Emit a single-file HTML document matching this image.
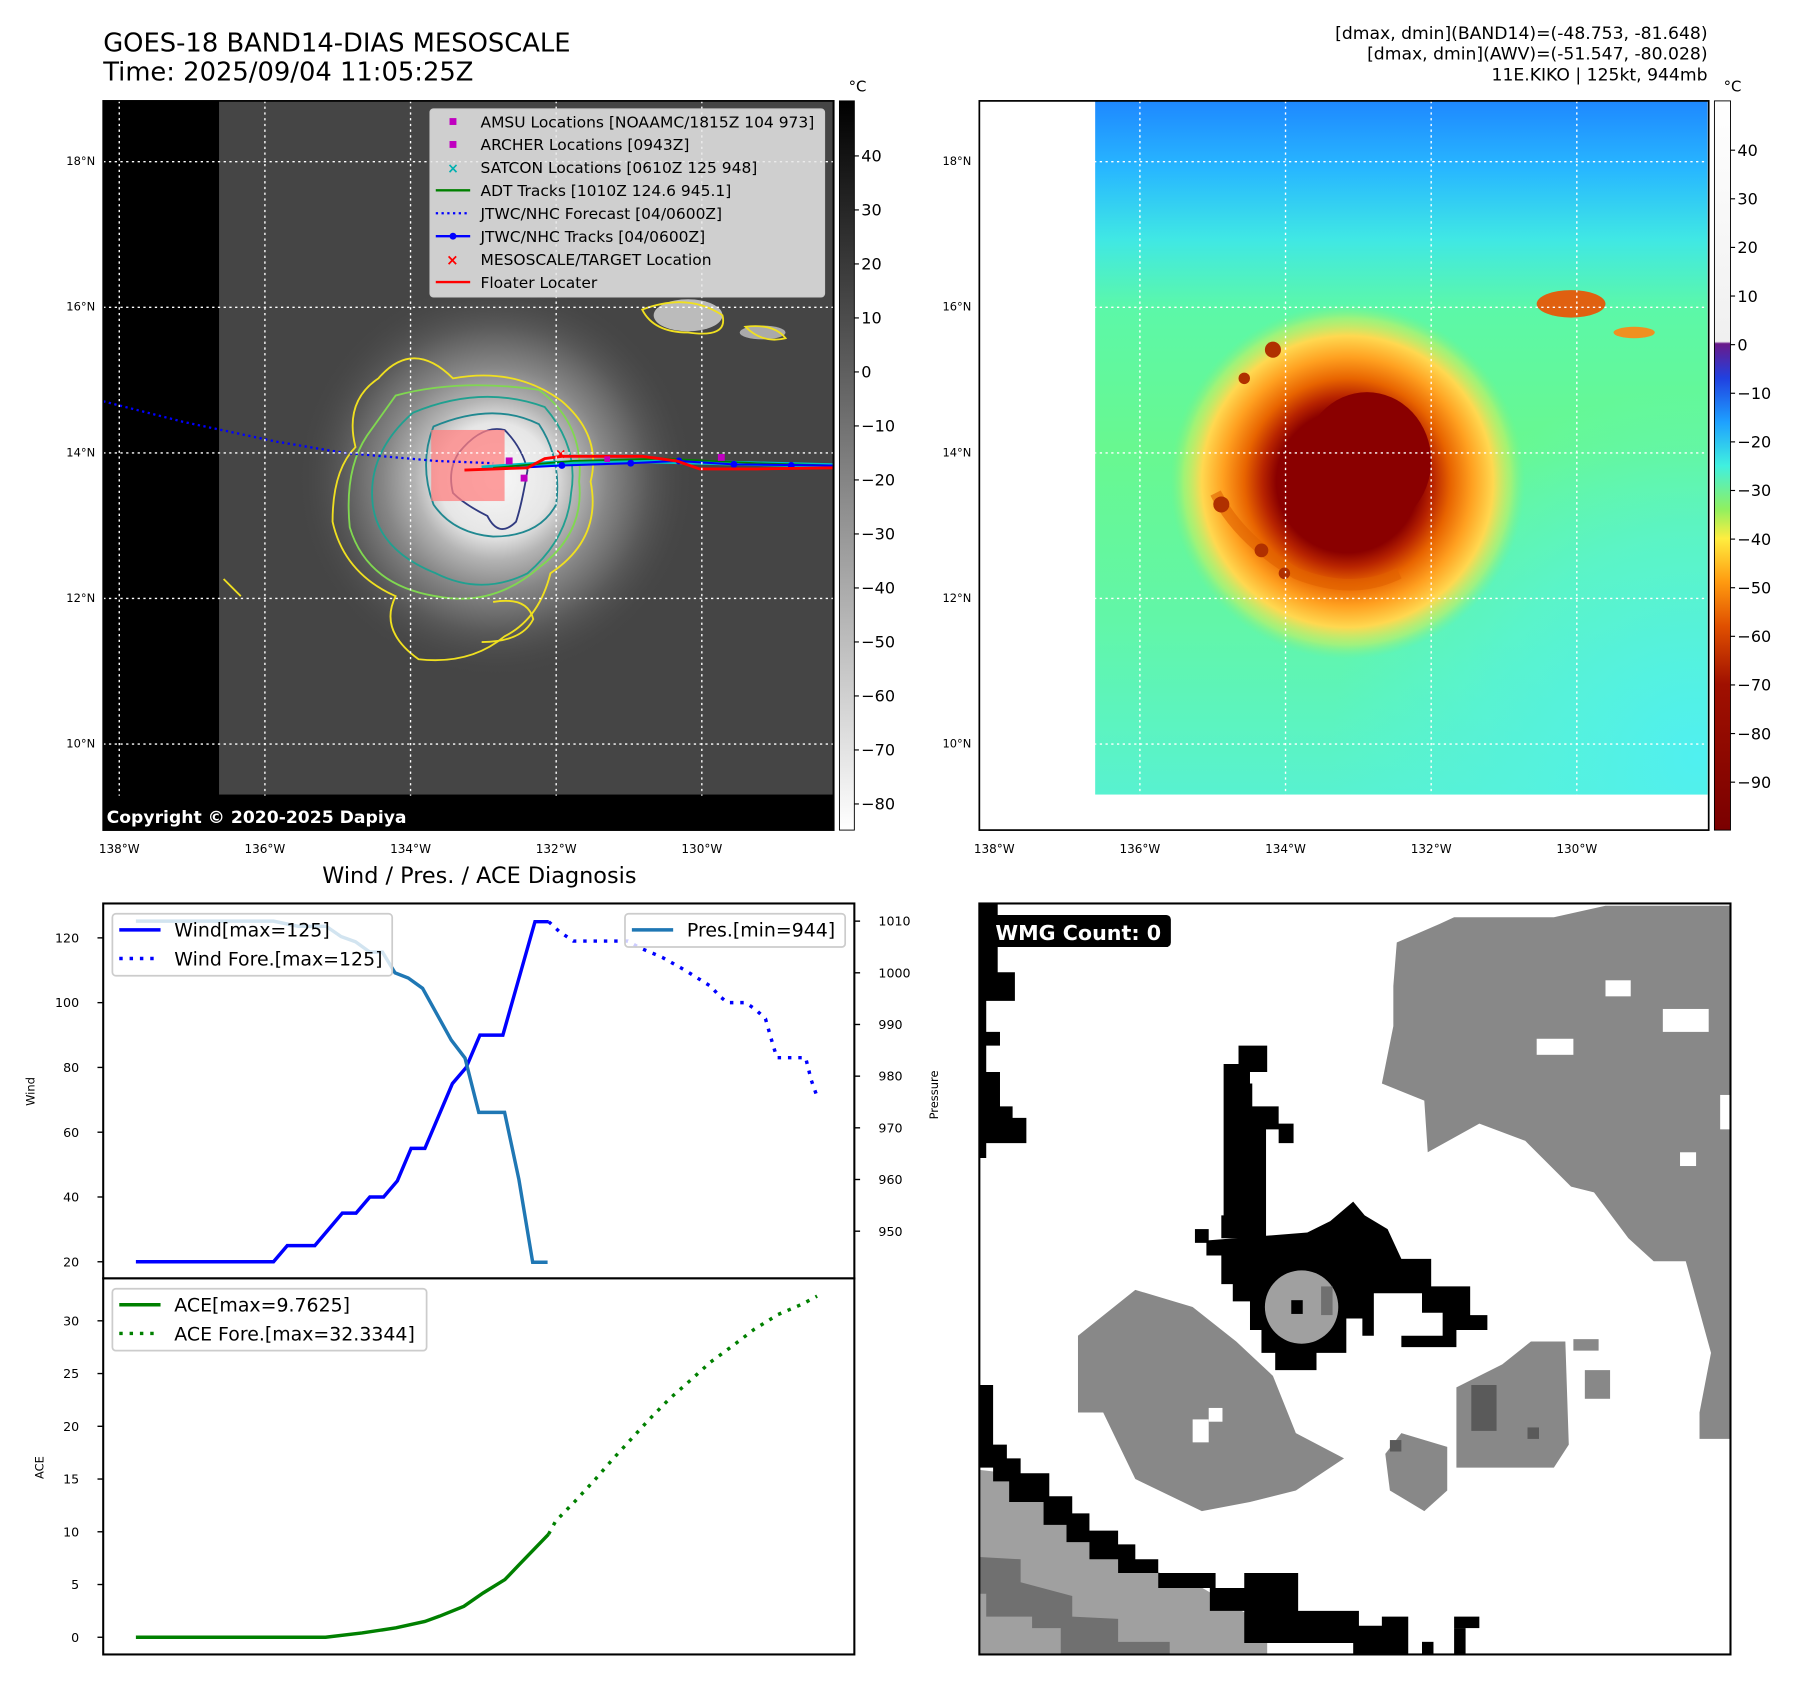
<!DOCTYPE html>
<html><head><meta charset="utf-8"><style>
html,body{margin:0;padding:0;background:#fff;}
svg{display:block;font-family:"DejaVu Sans","Liberation Sans",sans-serif;}
</style></head><body>
<svg id="fig" width="1797" height="1690" viewBox="0 0 1567 1474" preserveAspectRatio="none" xmlns="http://www.w3.org/2000/svg">
<defs>
<radialGradient id="stormGray" cx="432" cy="418" r="175" gradientUnits="userSpaceOnUse">
<stop offset="0" stop-color="#f8f8f8"/><stop offset="0.28" stop-color="#e6e6e6"/><stop offset="0.4" stop-color="#b4b4b4"/><stop offset="0.56" stop-color="#868686"/><stop offset="0.76" stop-color="#5a5a5a"/><stop offset="1" stop-color="#444" stop-opacity="0"/>
</radialGradient>
<linearGradient id="cbGray" x1="0" y1="0" x2="0" y2="1"><stop offset="0" stop-color="#000"/><stop offset="1" stop-color="#fff"/></linearGradient>
<linearGradient id="cbColor" x1="0" y1="0" x2="0" y2="1">
<stop offset="0" stop-color="#ffffff"/><stop offset="0.33" stop-color="#f0f0f0"/><stop offset="0.333" stop-color="#6a1a8a"/><stop offset="0.38" stop-color="#2040e0"/><stop offset="0.44" stop-color="#1ea0ff"/><stop offset="0.5" stop-color="#40f0e0"/><stop offset="0.56" stop-color="#90f060"/><stop offset="0.6" stop-color="#ffee40"/><stop offset="0.66" stop-color="#ff9a10"/><stop offset="0.72" stop-color="#e05000"/><stop offset="0.8" stop-color="#a01000"/><stop offset="1" stop-color="#7a0000"/>
</linearGradient>
<linearGradient id="irBase" x1="0" y1="88" x2="0" y2="693" gradientUnits="userSpaceOnUse">
<stop offset="0" stop-color="#1e88ff"/><stop offset="0.1" stop-color="#28b8ff"/><stop offset="0.2" stop-color="#40e8e4"/><stop offset="0.3" stop-color="#5cf8a8"/><stop offset="0.5" stop-color="#68f890"/><stop offset="0.75" stop-color="#62f6a8"/><stop offset="1" stop-color="#58f2d0"/>
</linearGradient>
<radialGradient id="cyanBR" cx="1480" cy="660" r="320" gradientUnits="userSpaceOnUse">
<stop offset="0" stop-color="#50f0f0"/><stop offset="0.6" stop-color="#55f2e0" stop-opacity="0.6"/><stop offset="1" stop-color="#55f2e0" stop-opacity="0"/>
</radialGradient>
<radialGradient id="stormColor" cx="1175" cy="420" r="155" gradientUnits="userSpaceOnUse">
<stop offset="0" stop-color="#8a0000"/><stop offset="0.4" stop-color="#8a0000"/><stop offset="0.48" stop-color="#b82400"/><stop offset="0.58" stop-color="#e86400"/><stop offset="0.7" stop-color="#ffa020"/><stop offset="0.82" stop-color="#ffd850"/><stop offset="0.92" stop-color="#c8f060" stop-opacity="0.6"/><stop offset="1" stop-color="#80f080" stop-opacity="0"/>
</radialGradient>
</defs>

<!-- Titles -->
<text x="90" y="45" font-size="22.5">GOES-18 BAND14-DIAS MESOSCALE</text>
<text x="90" y="70" font-size="22.5">Time: 2025/09/04 11:05:25Z</text>
<g font-size="15" text-anchor="end">
<text x="1489" y="34">[dmax, dmin](BAND14)=(-48.753, -81.648)</text>
<text x="1489" y="52">[dmax, dmin](AWV)=(-51.547, -80.028)</text>
<text x="1489" y="70">11E.KIKO | 125kt, 944mb</text>
</g>

<!-- Left map -->
<g>
<rect x="90" y="88" width="637" height="636" fill="#000"/>
<rect x="191" y="88" width="535" height="605" fill="#454545"/>
<rect x="191" y="88" width="535" height="605" fill="url(#stormGray)"/>
<ellipse cx="600" cy="275" rx="30" ry="14" fill="#bbb"/>
<ellipse cx="665" cy="290" rx="20" ry="6" fill="#aaa"/>
<g fill="none" stroke-width="1.6">
<path d="M330,330 Q360,295 395,330 Q450,320 490,350 Q525,380 515,420 Q525,470 480,500 Q470,540 440,555 Q410,580 365,575 Q330,550 345,520 Q300,500 290,455 Q290,410 310,390 Q300,350 330,330Z" stroke="#f0e020"/>
<path d="M345,345 Q400,330 470,340 Q510,370 505,420 Q510,465 470,495 Q430,530 380,520 Q320,510 305,460 Q300,410 320,380Z" stroke="#80d850"/>
<path d="M360,360 Q420,335 475,355 Q505,390 498,430 Q495,470 460,500 Q420,520 380,500 Q330,480 325,440 Q320,395 360,360Z" stroke="#20a090"/>
<path d="M378,372 Q430,350 470,370 Q490,400 485,440 Q470,468 430,468 Q395,465 378,440 Q365,405 378,372Z" stroke="#208890"/>
<path d="M400,395 Q420,370 440,375 Q455,390 460,410 Q455,440 450,455 Q435,470 425,450 Q405,440 395,430 Q390,410 400,395Z" stroke="#303a80"/>
<path d="M560,270 Q600,255 630,275 Q635,295 600,290 Q570,290 560,270Z" stroke="#f0e020"/>
<path d="M650,285 Q675,282 685,295 Q665,300 650,285Z" stroke="#f0e020"/>
<path d="M195,505 L210,520" stroke="#f0e020"/>
<path d="M430,525 Q460,520 465,540 Q455,560 420,560" stroke="#f0e020"/>
</g>
<rect x="376" y="375" width="64" height="62" fill="#ff8080" opacity="0.75"/>
<polyline points="90,350 160,368 240,385 300,395 380,402 430,404" fill="none" stroke="#0000ff" stroke-width="2" stroke-dasharray="2,3"/>
<polyline points="420,408 480,404 560,402 640,404 726,406" fill="none" stroke="#00c0c0" stroke-width="4"/>
<polyline points="430,408 500,402 580,400 660,404 726,406" fill="none" stroke="#008000" stroke-width="1.5"/>
<polyline points="450,408 490,406 550,404 590,402 640,405 726,406" fill="none" stroke="#0000ff" stroke-width="1.8"/>
<g fill="#0000ff"><circle cx="490" cy="406" r="3"/><circle cx="550" cy="404" r="3"/><circle cx="592" cy="402" r="3"/><circle cx="640" cy="405" r="3"/><circle cx="690" cy="406" r="3"/></g>
<polyline points="405,410 460,408 475,400 490,398 560,398 590,402 610,409 660,409 726,408" fill="none" stroke="#ff0000" stroke-width="2.5"/>
<text x="484" y="400" fill="#f00" font-size="12" font-weight="bold">×</text>
<g fill="#c000c0"><rect x="441" y="399" width="6" height="6"/><rect x="454" y="414" width="6" height="6"/><rect x="626" y="396" width="6" height="6"/><rect x="527" y="398" width="5" height="5"/></g>
<g stroke="#fff" stroke-width="1.2" stroke-dasharray="2,3">
<line x1="104" y1="88" x2="104" y2="724"/><line x1="231" y1="88" x2="231" y2="724"/><line x1="358" y1="88" x2="358" y2="724"/><line x1="485" y1="88" x2="485" y2="724"/><line x1="612" y1="88" x2="612" y2="724"/>
<line x1="90" y1="141" x2="727" y2="141"/><line x1="90" y1="268" x2="727" y2="268"/><line x1="90" y1="395" x2="727" y2="395"/><line x1="90" y1="522" x2="727" y2="522"/><line x1="90" y1="649" x2="727" y2="649"/>
</g>
<rect x="90" y="694" width="637" height="30" fill="#000"/>
<text x="93" y="718" fill="#fff" font-size="15" font-weight="bold">Copyright © 2020-2025 Dapiya</text>
<rect x="90" y="88" width="637" height="636" fill="none" stroke="#000" stroke-width="1.5"/>
<g>
<rect x="375" y="95" width="344" height="164" rx="3" fill="#e8e8e8" fill-opacity="0.85" stroke="#ccc"/>
<g font-size="13.5" fill="#000">
<rect x="392" y="103" width="6" height="6" fill="#c000c0"/><text x="419" y="111">AMSU Locations [NOAAMC/1815Z 104 973]</text>
<rect x="392" y="123" width="6" height="6" fill="#c000c0"/><text x="419" y="131">ARCHER Locations [0943Z]</text>
<text x="390" y="151" fill="#00b0b0" font-size="12" font-weight="bold">×</text><text x="419" y="151">SATCON Locations [0610Z 125 948]</text>
<line x1="380" y1="166" x2="410" y2="166" stroke="#008000" stroke-width="2"/><text x="419" y="171">ADT Tracks [1010Z 124.6 945.1]</text>
<line x1="380" y1="186" x2="410" y2="186" stroke="#0000ff" stroke-width="2" stroke-dasharray="2,3"/><text x="419" y="191">JTWC/NHC Forecast [04/0600Z]</text>
<line x1="380" y1="206" x2="410" y2="206" stroke="#0000ff" stroke-width="2"/><circle cx="395" cy="206" r="3" fill="#00f"/><text x="419" y="211">JTWC/NHC Tracks [04/0600Z]</text>
<text x="389" y="231" fill="#f00" font-size="13" font-weight="bold">×</text><text x="419" y="231">MESOSCALE/TARGET Location</text>
<line x1="380" y1="246" x2="410" y2="246" stroke="#f00" stroke-width="2"/><text x="419" y="251">Floater Locater</text>
</g></g>
<g font-size="10" text-anchor="end">
<text x="83" y="144">18°N</text><text x="83" y="271">16°N</text><text x="83" y="398">14°N</text><text x="83" y="525">12°N</text><text x="83" y="652">10°N</text></g>
<g font-size="10.5" text-anchor="middle">
<text x="104" y="744">138°W</text><text x="231" y="744">136°W</text><text x="358" y="744">134°W</text><text x="485" y="744">132°W</text><text x="612" y="744">130°W</text></g>
</g>
<g>
<rect x="732" y="88" width="13" height="636" fill="url(#cbGray)" stroke="#000" stroke-width="0.8"/>
<text x="740" y="80" font-size="13">°C</text>
<g font-size="14" id="cb1"></g></g>

<!-- Right map -->
<g>
<rect x="854" y="88" width="636" height="636" fill="#fff"/>
<rect x="955" y="88" width="534" height="605" fill="url(#irBase)"/>
<rect x="955" y="88" width="534" height="605" fill="url(#cyanBR)"/>
<rect x="955" y="88" width="534" height="605" fill="url(#stormColor)"/>
<ellipse cx="1192" cy="402" rx="56" ry="60" fill="#8a0000"/>
<path d="M1060,430 Q1080,470 1130,500 Q1180,520 1220,500" fill="none" stroke="#e06000" stroke-width="10" opacity="0.6"/>
<g fill="#b03000"><circle cx="1110" cy="305" r="7"/><circle cx="1085" cy="330" r="5"/><circle cx="1065" cy="440" r="7"/><circle cx="1100" cy="480" r="6"/><circle cx="1120" cy="500" r="5"/></g>
<ellipse cx="1370" cy="265" rx="30" ry="12" fill="#e06010"/>
<ellipse cx="1425" cy="290" rx="18" ry="5" fill="#f09020"/>
<g stroke="#fff" stroke-width="1.2" stroke-dasharray="2,3">
<line x1="994" y1="88" x2="994" y2="724"/><line x1="1121" y1="88" x2="1121" y2="724"/><line x1="1248" y1="88" x2="1248" y2="724"/><line x1="1375" y1="88" x2="1375" y2="724"/>
<line x1="854" y1="141" x2="1490" y2="141"/><line x1="854" y1="268" x2="1490" y2="268"/><line x1="854" y1="395" x2="1490" y2="395"/><line x1="854" y1="522" x2="1490" y2="522"/><line x1="854" y1="649" x2="1490" y2="649"/>
</g>
<rect x="854" y="88" width="636" height="636" fill="none" stroke="#000" stroke-width="1.5"/>
<g font-size="10" text-anchor="end"><text x="847" y="144">18°N</text><text x="847" y="271">16°N</text><text x="847" y="398">14°N</text><text x="847" y="525">12°N</text><text x="847" y="652">10°N</text></g>
<g font-size="10.5" text-anchor="middle"><text x="867" y="744">138°W</text><text x="994" y="744">136°W</text><text x="1121" y="744">134°W</text><text x="1248" y="744">132°W</text><text x="1375" y="744">130°W</text></g>
</g>
<g>
<rect x="1495" y="88" width="14" height="636" fill="url(#cbColor)" stroke="#000" stroke-width="0.8"/>
<text x="1503" y="80" font-size="13">°C</text>
<g font-size="14" id="cb2"></g></g>

<!-- Wind/Pres chart -->
<text x="418" y="770" font-size="19.5" text-anchor="middle">Wind / Pres. / ACE Diagnosis</text>
<g id="windChart">
<rect x="90" y="788" width="655" height="327" fill="#fff" stroke="#000" stroke-width="1.8"/>
</g>
<g id="aceChart">
<rect x="90" y="1115" width="655" height="328" fill="#fff" stroke="#000" stroke-width="1.8"/>
</g>
<text transform="translate(30,952) rotate(-90)" font-size="10" text-anchor="middle">Wind</text>
<text transform="translate(818,955) rotate(-90)" font-size="10" text-anchor="middle">Pressure</text>
<text transform="translate(38,1280) rotate(-90)" font-size="10" text-anchor="middle">ACE</text>

<!-- WMG panel -->
<g>
<rect x="854" y="788" width="655" height="655" fill="#fff"/>
<g fill="#888">
<polygon points="1218,822 1255,806 1268,800 1355,800 1400,790 1509,790 1509,1255 1482,1255 1482,1232 1492,1180 1470,1100 1442,1100 1420,1080 1390,1040 1370,1035 1330,995 1290,980 1245,1005 1242,960 1205,945 1215,895 1215,860"/>
<polygon points="940,1165 990,1125 1040,1140 1078,1170 1110,1200 1130,1250 1172,1272 1130,1300 1090,1310 1048,1318 990,1290 962,1232 940,1232"/>
<polygon points="1222,1250 1262,1262 1262,1300 1242,1318 1212,1300 1208,1268"/>
<polygon points="1270,1210 1310,1190 1335,1170 1365,1170 1368,1260 1355,1280 1270,1280"/>
<rect x="1372" y="1168" width="22" height="10"/><rect x="1382" y="1195" width="22" height="25"/>
</g>
<g fill="#fff"><rect x="1340" y="906" width="32" height="14"/><rect x="1400" y="855" width="22" height="14"/><rect x="1450" y="880" width="40" height="20"/><rect x="1465" y="1005" width="14" height="12"/><rect x="1500" y="955" width="9" height="30"/><rect x="1040" y="1238" width="14" height="20"/><rect x="1054" y="1228" width="12" height="12"/></g>
<g fill="#5a5a5a"><rect x="1283" y="1208" width="22" height="40"/><rect x="1212" y="1256" width="10" height="10"/><rect x="1332" y="1245" width="10" height="10"/></g>
<polygon points="854,1282 880,1285 935,1325 1000,1368 1045,1383 1105,1418 1105,1443 854,1443" fill="#a0a0a0"/>
<polygon points="854,1358 890,1360 890,1380 935,1392 935,1410 975,1412 975,1432 1020,1432 1020,1443 925,1443 925,1420 900,1420 900,1410 860,1410 860,1390 854,1390" fill="#707070"/>
<g fill="#000">
<polygon points="854,788 870,788 870,848 885,848 885,873 860,873 860,900 872,900 872,912 860,912 860,935 872,935 872,965 883,965 883,975 895,975 895,997 860,997 860,1010 854,1010"/>
<polygon points="854,1208 866,1208 866,1260 878,1260 878,1272 890,1272 890,1285 915,1285 915,1305 935,1305 935,1320 950,1320 950,1335 975,1335 975,1347 990,1347 990,1360 1010,1360 1010,1372 1060,1372 1060,1385 1085,1385 1085,1372 1132,1372 1132,1405 1185,1405 1185,1418 1205,1418 1205,1410 1228,1410 1228,1443 1205,1443 1180,1443 1180,1433 1085,1433 1085,1405 1055,1405 1055,1385 1010,1385 1010,1372 975,1372 975,1360 950,1360 950,1345 930,1345 930,1330 910,1330 910,1310 880,1310 880,1292 866,1292 866,1280 854,1280"/>
<rect x="1268" y="1410" width="22" height="10"/><rect x="1268" y="1420" width="10" height="23"/><rect x="1240" y="1432" width="10" height="11"/>
<polygon points="1080,912 1105,912 1105,935 1090,935 1090,945 1067,945 1067,928 1080,928"/>
<polygon points="1067,945 1092,945 1092,965 1115,965 1115,980 1128,980 1128,997 1115,997 1115,985 1104,985 1104,975 1092,975 1092,968 1104,968 1104,1080 1065,1080 1065,1060 1067,1060"/>
<polygon points="1052,1082 1140,1075 1160,1065 1180,1048 1190,1060 1210,1072 1222,1098 1248,1098 1248,1122 1260,1122 1282,1122 1282,1147 1297,1147 1297,1160 1270,1160 1270,1175 1222,1175 1222,1165 1258,1165 1258,1145 1240,1145 1240,1128 1198,1128 1198,1165 1188,1165 1188,1150 1174,1150 1174,1180 1148,1180 1148,1195 1112,1195 1112,1180 1100,1180 1100,1160 1090,1160 1090,1135 1075,1135 1075,1120 1065,1120 1065,1095 1052,1095"/>
<rect x="1042" y="1072" width="12" height="12"/>
</g>
<circle cx="1135" cy="1140" r="32" fill="#a0a0a0"/>
<rect x="1126" y="1134" width="10" height="12" fill="#000"/>
<rect x="1152" y="1122" width="10" height="25" fill="#707070"/>
<rect x="854" y="788" width="655" height="655" fill="none" stroke="#000" stroke-width="1.8"/>
<rect x="860" y="798" width="161" height="28" rx="4" fill="#000"/>
<text x="868" y="820" fill="#fff" font-size="18" font-weight="bold">WMG Count: 0</text>
</g>

<script>
// Wind / Pressure / ACE data (hours from start)
const windHours = [0,60,66,78,90,96,102,108,114,120,126,138,144,150,160,168,174,180];
const windValues = [20,20,25,25,35,35,40,40,45,55,55,75,80,90,90,110,125,125];
const windForeHours = [180,184.5,190.75,208,214.5,219.5,229.5,239.5,250.75,254.5,258,265.75,270,274.5,277.75,279.5,292,294.5,297];
const windForeValues = [125,122,119,119,119,117,114,110,105,102,100,100,98,95,87,83,83,76,71];
const presHours = [0,60,70.75,83,89.5,95.75,102,107.5,113,118.75,125,137.5,143.5,149.5,160.75,167,173,179.5];
const presValues = [1010,1010,1009,1009,1007,1006,1004,1004,1000,999,997,987,983.5,973,973,960,944,944];
const aceHours = [0,82.7,98.6,113.4,126,132.4,143,151.4,160.9,167.2,179.9];
const aceValues = [0,0,0.41,0.89,1.5,2.0,2.94,4.2,5.47,6.9,9.76];
const aceForeHours = [179.9,183,191.5,200,208,216,224,232.6,241.5,250.6,260,269.6,280,290.7,297];
const aceForeValues = [9.76,11,12.9,14.9,16.9,18.8,20.7,22.6,24.3,26.1,27.6,29.2,30.6,31.6,32.34];
const windTicks = [20,40,60,80,100,120];
const presTicks = [950,960,970,980,990,1000,1010];
const aceTicks = [0,5,10,15,20,25,30];
const cbGrayTicks = [40,30,20,10,0,-10,-20,-30,-40,-50,-60,-70,-80];
const cbColorTicks = [40,30,20,10,0,-10,-20,-30,-40,-50,-60,-70,-80,-90];

const NS='http://www.w3.org/2000/svg';
const xH = h => 118.5 + h*2.0;
const yWind = v => 1100.5 - (v-20)*2.825;
const yPres = p => 803.4 + (1010-p)*4.507;
const yAce = v => 1428 - v*9.2;
const yCb1 = v => 136 + (40-v)*4.71;
const yCb2 = v => 131 + (40-v)*4.24;

function mk(tag, attrs, parent){const e=document.createElementNS(NS,tag);for(const k in attrs)e.setAttribute(k,attrs[k]);parent.appendChild(e);return e;}
function pts(hs,vs,fy){return hs.map((h,i)=>xH(h).toFixed(1)+','+fy(vs[i]).toFixed(1)).join(' ');}

const wc=document.getElementById('windChart');
const ac=document.getElementById('aceChart');

windTicks.forEach(v=>{const y=yWind(v);
 mk('line',{x1:85,x2:90,y1:y,y2:y,stroke:'#000','stroke-width':1.2},wc);
 const t=mk('text',{x:69,y:y+4,'font-size':11,'text-anchor':'end'},wc);t.textContent=v;
 
 });
presTicks.forEach(v=>{const y=yPres(v);
 mk('line',{x1:745,x2:750,y1:y,y2:y,stroke:'#000','stroke-width':1.2},wc);
 const t=mk('text',{x:766,y:y+4,'font-size':11},wc);t.textContent=v;
 
 });
aceTicks.forEach(v=>{const y=yAce(v);
 mk('line',{x1:85,x2:90,y1:y,y2:y,stroke:'#000','stroke-width':1.2},ac);
 const t=mk('text',{x:69,y:y+4,'font-size':11,'text-anchor':'end'},ac);t.textContent=v;
 
 });

let l;
l=mk('polyline',{points:pts(windHours,windValues,yWind),fill:'none',stroke:'#0000ff','stroke-width':3},wc);


l=mk('polyline',{points:pts(windForeHours,windForeValues,yWind),fill:'none',stroke:'#0000ff','stroke-width':3,'stroke-dasharray':'3,6'},wc);


l=mk('polyline',{points:pts(presHours,presValues,yPres),fill:'none',stroke:'#1f77b4','stroke-width':3},wc);


l=mk('polyline',{points:pts(aceHours,aceValues,yAce),fill:'none',stroke:'#008000','stroke-width':3},ac);


l=mk('polyline',{points:pts(aceForeHours,aceForeValues,yAce),fill:'none',stroke:'#008000','stroke-width':3,'stroke-dasharray':'3,6'},ac);



// legends
function legend(parent,x,y,w,h,items,name){
 const g=mk('g',{},parent);
 
 
 mk('rect',{x:x,y:y,width:w,height:h,rx:3,fill:'#fff','fill-opacity':0.8,stroke:'#ccc','stroke-width':1.5},g);
 items.forEach((it,i)=>{const cy=y+14+i*25;
  const a={x1:x+6,x2:x+42,y1:cy,y2:cy,stroke:it.c,'stroke-width':3};if(it.d)a['stroke-dasharray']='3,6';
  mk('line',a,g);
  const t=mk('text',{x:x+54,y:cy+6,'font-size':16.5},g);t.textContent=it.t;});
}
legend(wc,98,797,244,54,[{c:'#0000ff',t:'Wind[max=125]'},{c:'#0000ff',t:'Wind Fore.[max=125]',d:1}],'wind-legend');
legend(wc,545,797,192,29,[{c:'#1f77b4',t:'Pres.[min=944]'}],'pressure-legend');
legend(ac,98,1124,274,54,[{c:'#008000',t:'ACE[max=9.7625]'},{c:'#008000',t:'ACE Fore.[max=32.3344]',d:1}],'ace-legend');

const cb1=document.getElementById('cb1');
cbGrayTicks.forEach(v=>{const y=yCb1(v);
 mk('line',{x1:745,x2:749,y1:y,y2:y,stroke:'#000'},cb1);
 const t=mk('text',{x:751,y:y+5},cb1);t.textContent=(v<0?'\u2212'+(-v):v);
 
 });
const cb2=document.getElementById('cb2');
cbColorTicks.forEach(v=>{const y=yCb2(v);
 mk('line',{x1:1509,x2:1513,y1:y,y2:y,stroke:'#000'},cb2);
 const t=mk('text',{x:1515,y:y+5},cb2);t.textContent=(v<0?'\u2212'+(-v):v);
 
 });
</script>
</svg>
</body></html>
